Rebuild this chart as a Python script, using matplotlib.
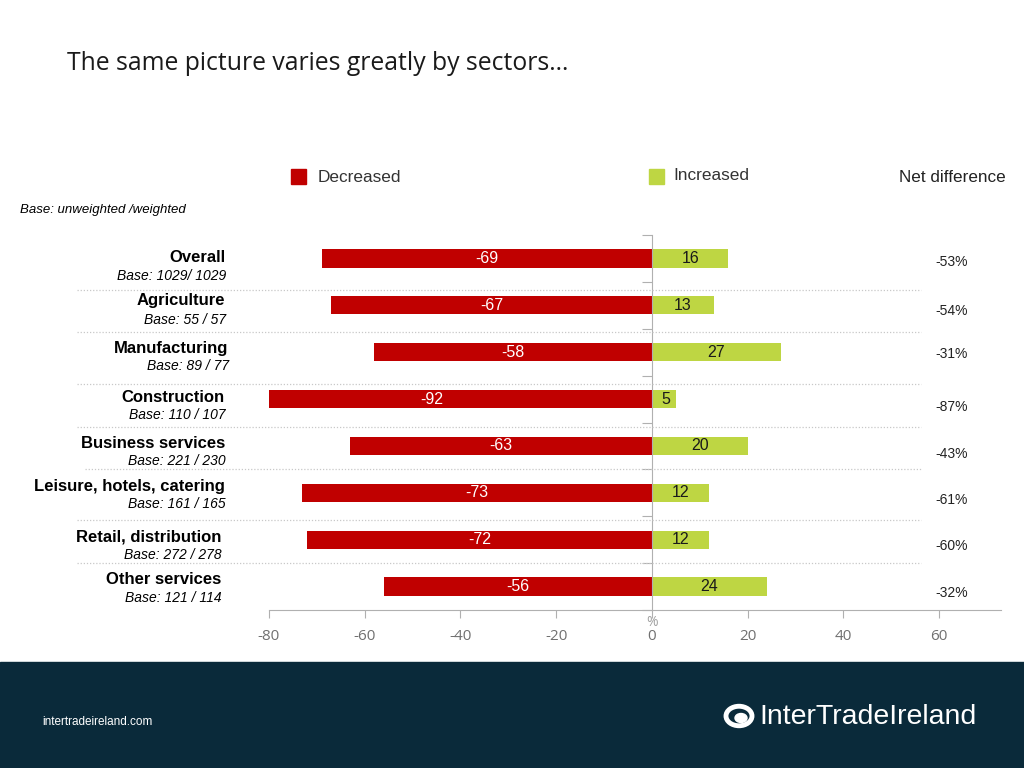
import matplotlib
matplotlib.use("Agg")
import matplotlib.pyplot as plt
from matplotlib.patches import Rectangle, Circle

sectors = ["Overall", "Agriculture", "Manufacturing", "Construction",
           "Business services", "Leisure, hotels, catering",
           "Retail, distribution", "Other services"]
bases = ["Base: 1029/ 1029", "Base: 55 / 57", "Base: 89 / 77", "Base: 110 / 107",
         "Base: 221 / 230", "Base: 161 / 165", "Base: 272 / 278", "Base: 121 / 114"]
decreased = [-69, -67, -58, -92, -63, -73, -72, -56]
increased = [16, 13, 27, 5, 20, 12, 12, 24]
net_diff = ["-53%", "-54%", "-31%", "-87%", "-43%", "-61%", "-60%", "-32%"]
xticks = [-80, -60, -40, -20, 0, 20, 40, 60]

RED = "#C00000"
GREEN = "#BED643"
W, H = 1024, 768

fig = plt.figure(figsize=(10.24, 7.68), dpi=100)
fig.patch.set_facecolor("white")

def fx(px):
    return px / W

def fy(py):
    return 1 - py / H

ppu = (939 - 269) / 140.0
xmax = (1001 - 269) / ppu - 80
ax = fig.add_axes([fx(269), fy(610), (1001 - 269) / W, (610 - 235) / H])
ax.set_xlim(-80, xmax)
n = len(sectors)
ax.set_ylim(n - 0.5, -0.5)
ypos = list(range(n))

ax.barh(ypos, decreased, height=0.39, color=RED, zorder=2)
ax.barh(ypos, increased, height=0.39, color=GREEN, zorder=2)

lab_font = "Liberation Sans"
for i in ypos:
    ax.text(decreased[i] / 2, i, str(decreased[i]), ha="center", va="center",
            color="white", fontsize=11.5, family=lab_font, zorder=3)
    ax.text(increased[i] / 2 if increased[i] > 6 else increased[i] / 2 + 0.5, i,
            str(increased[i]), ha="center", va="center",
            color="#1a1a1a", fontsize=11.5, family=lab_font, zorder=3)

for s in ["top", "right"]:
    ax.spines[s].set_visible(False)
ax.spines["left"].set_position(("data", 0))
ax.spines["left"].set_color("#b0b0b0")
ax.spines["bottom"].set_color("#b0b0b0")
ax.spines["left"].set_zorder(4)
ax.set_yticks([y - 0.5 for y in range(n + 1)])
ax.set_yticklabels([])
ax.tick_params(axis="y", direction="out", length=7, color="#b0b0b0")
ax.set_xticks(xticks)
ax.set_xticklabels([str(v) for v in xticks], fontsize=11, color="#707070",
                   family="Open Sans")
ax.tick_params(axis="x", direction="out", length=6, color="#b0b0b0", pad=8)
ax.text(0, -0.012, "%", transform=ax.get_xaxis_transform(), ha="center",
        va="top", fontsize=10, color="#a0a0a0", family="Open Sans")

# row labels
cat_y = [258, 301, 348, 397, 443, 487, 537, 580]
base_y = [276, 320, 366, 415, 461, 504, 555, 598]
cat_x = [225, 225, 228, 225, 225, 225, 221, 221]
base_x = [226, 226, 229, 226, 226, 226, 222, 222]
for i in range(n):
    fig.text(fx(cat_x[i]), fy(cat_y[i]), sectors[i], ha="right", va="center",
             fontsize=12, fontweight="bold", family=lab_font, color="black")
    fig.text(fx(base_x[i]), fy(base_y[i]), bases[i], ha="right", va="center",
             fontsize=10, style="italic", family=lab_font, color="black")

# net difference values
net_y = [262, 311, 354, 407, 454, 500, 546, 593]
for i in range(n):
    fig.text(fx(952), fy(net_y[i]), net_diff[i], ha="center", va="center",
             fontsize=10, family=lab_font, color="#222222")

# dotted separators
sep = [(290, 77), (332, 77), (384, 77), (427, 77), (469, 85), (520, 77), (563, 77)]
for yy, x0 in sep:
    fig.add_artist(plt.Line2D([fx(x0), fx(921)], [fy(yy), fy(yy)],
                              color="#c8c8c8", lw=0.9, ls=(0, (1, 1.5))))

# title
fig.text(fx(67), fy(63), "The same picture varies greatly by sectors\u2026",
         ha="left", va="center", fontsize=17.8, family="Open Sans", color="#1a1a1a")

# legend
fig.add_artist(Rectangle((fx(291), fy(184)), 15 / W, 15 / H, color=RED,
                         transform=fig.transFigure))
fig.text(fx(318), fy(177), "Decreased", ha="left", va="center", fontsize=12.4,
         family=lab_font, color="#333333")
fig.add_artist(Rectangle((fx(649), fy(184)), 15 / W, 15 / H, color=GREEN,
                         transform=fig.transFigure))
fig.text(fx(673), fy(176), "Increased", ha="left", va="center", fontsize=12.4,
         family=lab_font, color="#333333")
fig.text(fx(899), fy(178), "Net difference", ha="left", va="center",
         fontsize=12.3, family=lab_font, color="#222222")

fig.text(fx(20), fy(210), "Base: unweighted /weighted", ha="left", va="center",
         fontsize=9.5, style="italic", family=lab_font, color="black")

# footer
fig.add_artist(Rectangle((0, 0), 1, (768 - 662) / H, color="#0A2A3A",
                         transform=fig.transFigure, zorder=0))
fig.text(fx(42), fy(722), "intertradeireland.com", ha="left", va="center",
         fontsize=8.5, family=lab_font, color="white")
fig.text(fx(759), fy(717), "InterTradeIreland", ha="left", va="center",
         fontsize=20.5, family=lab_font, color="white")
fig.add_artist(Circle((fx(739), fy(716)), 13 / W, transform=fig.transFigure,
                      fill=False, lw=3.5, ec="white"))
fig.add_artist(Circle((fx(741), fy(718)), 6 / W, transform=fig.transFigure,
                      fill=True, color="white"))

fig.savefig("out.png", dpi=100, facecolor=fig.get_facecolor())
